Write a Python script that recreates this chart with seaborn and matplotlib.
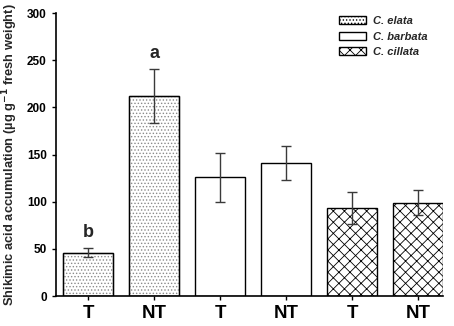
import matplotlib
matplotlib.use("Agg")
import matplotlib.pyplot as plt
import seaborn as sns
import pandas as pd
from matplotlib.patches import Patch, Rectangle

species = ["C. elata", "C. elata", "C. barbata", "C. barbata", "C. ciliata", "C. ciliata"]
treatment = ["T", "NT", "T", "NT", "T", "NT"]
values = [46, 212, 126, 141, 93, 99]
errors = [5, 29, 26, 18, 17, 13]
letters = ["b", "a", "", "", "", ""]
legend_labels = ["C. elata", "C. barbata", "C. cillata"]
hatches = {"C. elata": ".....", "C. barbata": "", "C. ciliata": "xxx"}
hatch_colors = {"C. elata": "#8a8a8a", "C. barbata": "black", "C. ciliata": "black"}

sns.set_style("ticks")
plt.rcParams["font.family"] = ["Liberation Sans", "DejaVu Sans"]
plt.rcParams["hatch.linewidth"] = 0.6

df = pd.DataFrame({"key": [f"{s}_{t}_{i}" for i, (s, t) in enumerate(zip(species, treatment))],
                   "species": species, "treatment": treatment, "value": values, "err": errors})

fig = plt.figure(figsize=(4.54, 3.26), dpi=100)
ax = fig.add_axes([0.123, 0.092, 0.853, 0.868])

sns.barplot(data=df, x="key", y="value", hue="species", dodge=False, errorbar=None,
            palette={"C. elata": "white", "C. barbata": "white", "C. ciliata": "white"},
            width=0.76, edgecolor="black", linewidth=1.0, legend=False, ax=ax)

bars = [p for p in ax.patches if p.get_height() > 0]
bars.sort(key=lambda p: p.get_x())
for p, s in zip(bars, species):
    p.set_hatch(hatches[s])
    if s == "C. elata":
        p.set_edgecolor(hatch_colors[s])
        ax.add_patch(Rectangle(p.get_xy(), p.get_width(), p.get_height(), fill=False,
                               edgecolor="black", linewidth=1.0, zorder=p.get_zorder() + 0.1))

xs = range(len(values))
ax.errorbar(list(xs), values, yerr=errors, fmt="none", ecolor="#3a3a3a",
            elinewidth=1.0, capsize=3.6, capthick=1.0, zorder=5)

for x, v, e, l in zip(xs, values, errors, letters):
    if l:
        ax.text(x, v + e + 7, l, ha="center", va="bottom", fontsize=13, fontweight="bold")

ax.set_xlim(-0.49, 5.38)
ax.set_ylim(0, 300)
ax.set_yticks([0, 50, 100, 150, 200, 250, 300])
ax.set_xticks(list(xs))
ax.set_xticklabels(treatment, fontsize=13.5, fontweight="bold")
for t in ax.get_yticklabels():
    t.set_fontweight("bold")
    t.set_fontsize(8.5)
ax.tick_params(axis="both", direction="out", length=3, width=1, colors="black")
ax.tick_params(axis="x", pad=3.5)
ax.set_xlabel("")
ax.set_ylabel("Shikimic acid accumulation (µg g$^{\\mathbf{-1}}$ fresh weight)",
              fontsize=9.3, fontweight="bold", labelpad=5)
sns.despine(ax=ax)
for sp in ["left", "bottom"]:
    ax.spines[sp].set_linewidth(1.2)
    ax.spines[sp].set_color("black")

handles = [Patch(facecolor="white", edgecolor=hatch_colors[s] if s == "C. elata" else "black",
                 hatch=hatches[s], label=l)
           for s, l in zip(["C. elata", "C. barbata", "C. ciliata"], legend_labels)]
leg = ax.legend(handles=handles, loc="upper right", bbox_to_anchor=(0.985, 1.025), frameon=False,
                prop={"style": "italic", "weight": "bold", "size": 8},
                handlelength=2.4, handleheight=0.7, labelspacing=0.5, handletextpad=0.6)
for h in leg.legend_handles:
    h.set_edgecolor("black")

fig.savefig("out.png", dpi=100)
